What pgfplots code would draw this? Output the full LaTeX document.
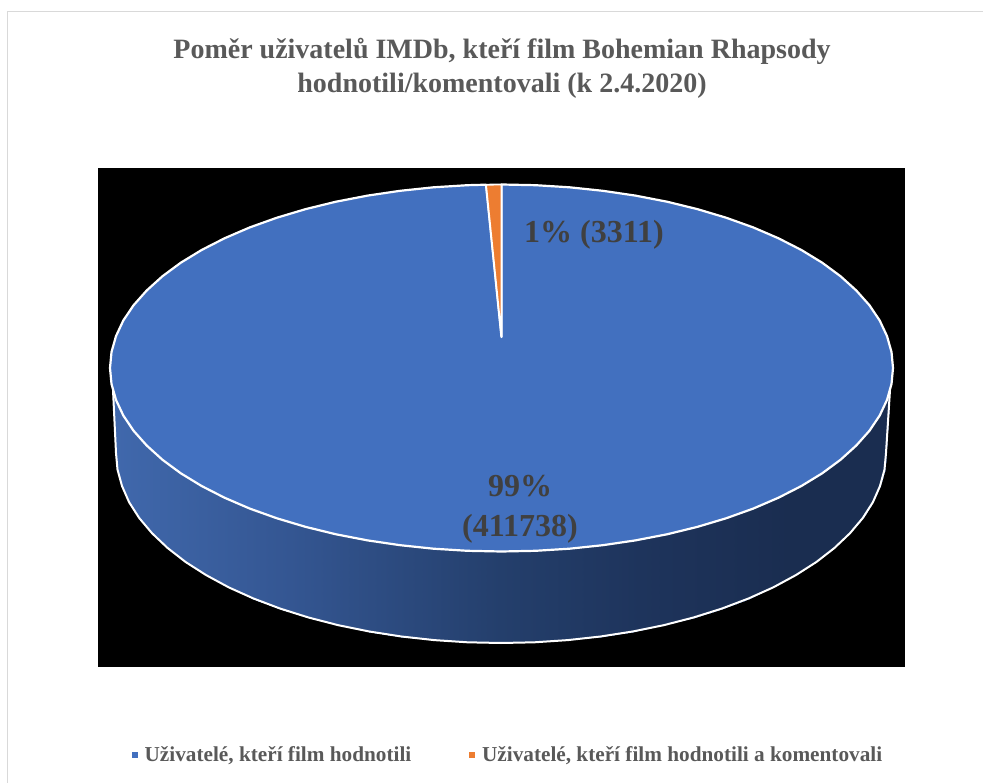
\documentclass[border=0pt]{standalone}
\usepackage{pgfplots}
\pgfplotsset{compat=1.18}
\usepackage{fontspec}
\setmainfont{Liberation Serif}

\definecolor{pieblue}{HTML}{4270BF}
\definecolor{pieorange}{HTML}{ED7D31}
\definecolor{titlegray}{HTML}{595959}
\definecolor{labelgray}{HTML}{404040}
\definecolor{framegray}{HTML}{D9D9D9}

\begin{document}
\begin{tikzpicture}
% hide axis only keeps what is drawn, so fix the page size here
\useasboundingbox (0,0) rectangle (983pt,783pt);
\begin{axis}[
    hide axis,
    scale only axis,
    width=983pt,
    height=783pt,
    xmin=0, xmax=983,
    ymin=0, ymax=783,
    y dir=reverse,
    colormap={side}{
        rgb255(116)=(64,104,172);
        rgb255(290)=(52,86,146);
        rgb255(500)=(36,63,108);
        rgb255(640)=(30,52,92);
        rgb255(790)=(26,45,80);
        rgb255(886)=(26,45,80)},
    point meta min=116,
    point meta max=886,
    legend columns=2,
    legend style={
        at={(axis cs:131.7,755)},
        anchor=west,
        draw=none,
        fill=none,
        inner sep=0pt,
        font=\fontsize{21.25}{24}\selectfont\bfseries\color{titlegray},
        /tikz/every odd column/.append style={column sep=5.5pt},
        /tikz/every even column/.append style={column sep=56pt},
    },
    legend cell align=left,
]
% frame of the chart area, it runs off the right and bottom edge
\addplot[forget plot, framegray, line width=1.5pt] coordinates {
    (7.5,783) (7.5,11.5) (983,11.5)};

% black plot area
\addplot[forget plot, fill=black, draw=none] coordinates {
    (98,168) (905,168) (905,667) (98,667)} -- cycle;

% side of the pie
\addplot[forget plot, surf, shader=interp, mesh/cols=37, mesh/ordering=x varies, point meta=x] table {
x y
113 390
117.5 400
122 400
129.1 400
139.2 400
152.1 400
167.6 400
185.6 400
206.1 400
228.8 400
253.5 400
280.2 400
308.5 400
338.3 400
369.3 400
401.4 400
434.2 400
467.4 400
501 400
534.6 400
567.8 400
600.6 400
632.7 400
663.7 400
693.5 400
721.8 400
748.5 400
773.2 400
795.9 400
816.4 400
834.4 400
849.9 400
862.8 400
872.9 400
880 400
884.5 400
890 390
116 453
117.5 469.6
122 486
129.1 502.2
139.2 518
152.1 533.3
167.6 548
185.6 562
206.1 575.1
228.8 587.4
253.5 598.5
280.2 608.6
308.5 617.5
338.3 625.2
369.3 631.5
401.4 636.5
434.2 640.1
467.4 642.3
501 643
534.6 642.3
567.8 640.1
600.6 636.5
632.7 631.5
663.7 625.2
693.5 617.5
721.8 608.6
748.5 598.5
773.2 587.4
795.9 575.1
816.4 562
834.4 548
849.9 533.3
862.8 518
872.9 502.2
880 486
884.5 469.6
886 453
};
\addplot[forget plot, white, line width=2pt, line join=round] coordinates {
    (113,390) (116,453) (117.5,469.6) (122,486) (129.1,502.2) (139.2,518)
    (152.1,533.3) (167.6,548) (185.6,562) (206.1,575.1) (228.8,587.4)
    (253.5,598.5) (280.2,608.6) (308.5,617.5) (338.3,625.2) (369.3,631.5)
    (401.4,636.5) (434.2,640.1) (467.4,642.3) (501,643) (534.6,642.3)
    (567.8,640.1) (600.6,636.5) (632.7,631.5) (663.7,625.2) (693.5,617.5)
    (721.8,608.6) (748.5,598.5) (773.2,587.4) (795.9,575.1) (816.4,562)
    (834.4,548) (849.9,533.3) (862.8,518) (872.9,502.2) (880,486)
    (884.5,469.6) (886,453) (890,390)};

% top of the pie: 99 % slice
\addplot[forget plot, fill=pieblue, draw=white, line width=2.2pt, line join=round] coordinates {
    (501.5,337) (501.5,184.5)
    (535.6,185.2) (569.5,187.3) (602.8,190.8) (635.4,195.6) (667,201.7)
    (697.3,209.1) (726.1,217.7) (753.2,227.4) (778.3,238.2) (801.4,250)
    (822.2,262.7) (840.5,276.2) (856.3,290.5) (869.4,305.2) (879.7,320.5)
    (887,336.1) (891.5,352) (893,368) (891.5,384) (887,399.9) (879.7,415.5)
    (869.4,430.8) (856.3,445.5) (840.5,459.8) (822.2,473.3) (801.4,486)
    (778.3,497.8) (753.2,508.6) (726.1,518.3) (697.3,526.9) (667,534.3)
    (635.4,540.4) (602.8,545.2) (569.5,548.7) (535.6,550.8) (501.5,551.5)
    (467.4,550.8) (433.5,548.7) (400.2,545.2) (367.6,540.4) (336,534.3)
    (305.7,526.9) (276.9,518.3) (249.8,508.6) (224.7,497.8) (201.6,486)
    (180.8,473.3) (162.5,459.8) (146.7,445.5) (133.6,430.8) (123.3,415.5)
    (116,399.9) (111.5,384) (110,368) (111.5,352) (116,336.1) (123.3,320.5)
    (133.6,305.2) (146.7,290.5) (162.5,276.2) (180.8,262.7) (201.6,250)
    (224.7,238.2) (249.8,227.4) (276.9,217.7) (305.7,209.1) (336,201.7)
    (367.6,195.6) (400.2,190.8) (433.5,187.3) (467.4,185.2) (486,184.7)} -- cycle;

% 1 % slice
\addplot[forget plot, fill=pieorange, draw=white, line width=1.8pt, line join=round] coordinates {
    (501.5,337) (486,184.7) (501.5,184.5)} -- cycle;

\addlegendimage{only marks, mark=square*, mark size=2.6pt, pieblue}
\addlegendentry{Uživatelé, kteří film hodnotili}
\addlegendimage{only marks, mark=square*, mark size=2.6pt, pieorange}
\addlegendentry{Uživatelé, kteří film hodnotili a komentovali}

\node[text=labelgray, font=\fontsize{32}{36}\selectfont\bfseries] at (axis cs:594,235) {1\% (3311)};
\node[text=labelgray, font=\fontsize{32}{40}\selectfont\bfseries, align=center] at (axis cs:520,509.5) {99\%\\(411738)};
\node[text=titlegray, font=\fontsize{28}{34}\selectfont\bfseries, align=center] at (axis cs:502,68)
    {Poměr uživatelů IMDb, kteří film Bohemian Rhapsody\\hodnotili/komentovali (k 2.4.2020)};
\end{axis}
\end{tikzpicture}
\end{document}
